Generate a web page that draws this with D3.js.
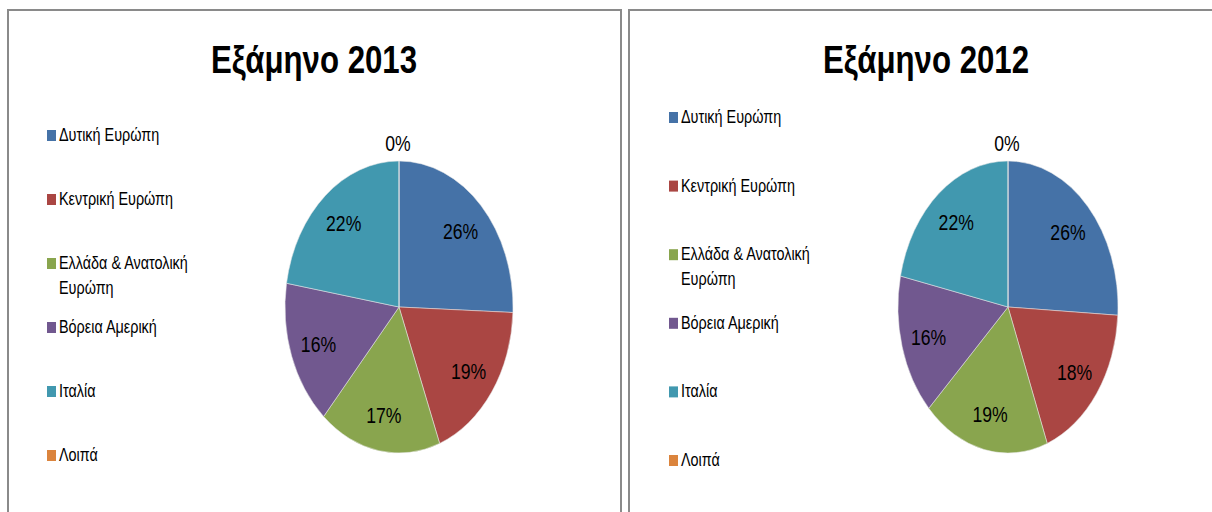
<!DOCTYPE html>
<html>
<head>
<meta charset="utf-8">
<script src="https://cdn.jsdelivr.net/npm/d3@7"></script>
<style>
  body { margin: 0; background: #fff; }
  svg { display: block; }
  text { font-family: "Liberation Sans", Arial, sans-serif; }
</style>
</head>
<body>
<div id="chart"></div>
<script>
// data
var categories = ["Δυτική Ευρώπη", "Κεντρική Ευρώπη", "Ελλάδα & Ανατολική Ευρώπη", "Βόρεια Αμερική", "Ιταλία", "Λοιπά"];
var values2013 = [25.6, 18.6, 17.3, 16.1, 22.4, 0];
var values2012 = [25.9, 18.3, 18.6, 15.6, 21.6, 0];
var titles = ["Εξάμηνο 2013", "Εξάμηνο 2012"];
var colors = ["#4572A7", "#AA4643", "#89A54E", "#71588F", "#4198AF", "#DB843D"];

var width = 1212, height = 512;
var sx = 0.8; // the original is squeezed horizontally

// layout of the two panels
var panels = [
  {title: titles[0], values: values2013, x0: 8, x1: 621, cx: 399, cy: 307, rx: 114, ry: 146,
   titleX: 314, legendX: 47, legendY: 141, legendStep: 64},
  {title: titles[1], values: values2012, x0: 629, x1: 1250, cx: 1008, cy: 307, rx: 110, ry: 146,
   titleX: 926, legendX: 669, legendY: 123, legendStep: 68.6}
];

var svg = d3.select("#chart")
  .append("svg")
  .attr("width", width)
  .attr("height", height);

var color = d3.scaleOrdinal().domain(categories).range(colors);

function squeezed(x, y) {
  return "translate(" + x + "," + y + ") scale(" + sx + ",1)";
}

panels.forEach(function(p) {
  var g = svg.append("g");

  // panel frame
  g.append("rect")
    .attr("x", p.x0)
    .attr("y", 10)
    .attr("width", p.x1 - p.x0)
    .attr("height", 540)
    .attr("fill", "#fff")
    .attr("stroke", "#8a8a8a")
    .attr("stroke-width", 2);

  // title
  g.append("text")
    .attr("transform", squeezed(p.titleX, 73))
    .attr("text-anchor", "middle")
    .style("font-size", "39px")
    .style("font-weight", "bold")
    .attr("fill", "#000")
    .text(p.title);

  // legend
  var leg = g.selectAll(".leg")
    .data(categories)
    .enter()
    .append("g")
    .attr("transform", function(d, i) { return "translate(" + p.legendX + "," + (p.legendY + i * p.legendStep) + ")"; });

  leg.append("rect")
    .attr("x", 0)
    .attr("y", -11)
    .attr("width", 9)
    .attr("height", 11)
    .attr("fill", function(d) { return color(d); });

  leg.append("text")
    .attr("transform", squeezed(12, 0))
    .style("font-size", "18px")
    .attr("fill", "#000")
    .each(function(d) {
      var t = d3.select(this);
      var words = d.split(" ");
      var line = [];
      var tspan = t.append("tspan").attr("x", 0).attr("dy", 0);
      words.forEach(function(w) {
        line.push(w);
        tspan.text(line.join(" "));
        if (tspan.node().getComputedTextLength() > 200 && line.length > 1) {
          line.pop();
          tspan.text(line.join(" "));
          line = [w];
          tspan = t.append("tspan").attr("x", 0).attr("dy", 25).text(w);
        }
      });
    });

  // pie
  var pie = d3.pie().sort(null).value(function(d) { return d; });
  var arcs = pie(p.values);
  var arc = d3.arc().innerRadius(0).outerRadius(p.ry);
  var labelArc = d3.arc().innerRadius(p.ry * 0.75).outerRadius(p.ry * 0.75);
  var outArc = d3.arc().innerRadius(p.ry * 1.12).outerRadius(p.ry * 1.12);
  var total = d3.sum(p.values);

  var pg = g.append("g")
    .attr("transform", "translate(" + p.cx + "," + p.cy + ") scale(" + (p.rx / p.ry) + ",1)");

  pg.selectAll("path")
    .data(arcs)
    .enter()
    .append("path")
    .attr("d", arc)
    .attr("fill", function(d, i) { return colors[i]; })
    .attr("stroke", "#e8e8e8")
    .attr("stroke-width", 0.6);

  // labels
  g.selectAll(".lbl")
    .data(arcs)
    .enter()
    .append("text")
    .attr("transform", function(d) {
      var c = d.value > 0 ? labelArc.centroid(d) : outArc.centroid(d);
      return squeezed(p.cx + c[0] * p.rx / p.ry - (d.value > 0 ? 0 : 1), p.cy + c[1]);
    })
    .attr("text-anchor", "middle")
    .attr("dy", "0.36em")
    .style("font-size", "22px")
    .attr("fill", "#000")
    .text(function(d) { return Math.round(d.value / total * 100) + "%"; });
});
</script>
</body>
</html>
